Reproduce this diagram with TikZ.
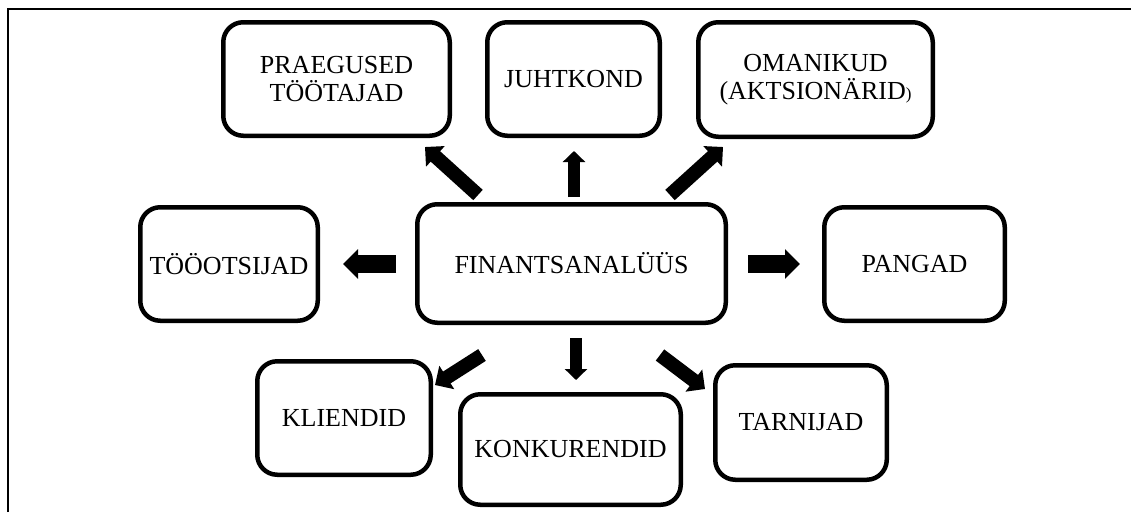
\documentclass[tikz,border=0pt]{standalone}
\usepackage{fontspec}
\setmainfont{Liberation Serif}
\usetikzlibrary{arrows.meta}
\begin{document}
\begin{tikzpicture}[x=1pt,y=-1pt,
  box/.style={draw, line width=4.5pt, rounded corners=20pt, align=center,
    font=\fontsize{26}{27.5}\selectfont, inner sep=0pt},
  blkh/.style={line width=18pt, -{Triangle[length=15pt,width=29pt]}},
  blkv/.style={line width=12.5pt, -{Triangle[length=11pt,width=22pt]}},
  blkd/.style={line width=14pt, -{Triangle[length=14pt,width=27pt]}},
  frame/.style={line width=1.2pt}]
\useasboundingbox (0,0) rectangle (1131,512);
\draw[frame] (8,512) -- (8,9) -- (1131,9);
% boxes
\node[box, minimum width=226.5pt, minimum height=113.5pt] (praeg) at (336.5,79) {PRAEGUSED\\TÖÖTAJAD};
\node[box, minimum width=172.5pt, minimum height=113.5pt] (juht) at (573.5,79) {JUHTKOND};
\node[box, minimum width=234.5pt, minimum height=114.5pt] (oman) at (815.5,79.5) {OMANIKUD\\(AKTSIONÄRID{\fontsize{17}{17}\selectfont)}};
\node[box, minimum width=177.5pt, minimum height=113.5pt] (tooots) at (229,264) {TÖÖOTSIJAD};
\node[box, minimum width=308.5pt, minimum height=118.5pt] (fin) at (571.5,263.5) {FINANTSANALÜÜS};
\node[box, minimum width=180.5pt, minimum height=113.5pt] (pang) at (914.5,264) {PANGAD};
\node[box, minimum width=173.5pt, minimum height=113.5pt] (klient) at (344,418) {KLIENDID};
\node[box, minimum width=220.5pt, minimum height=110.5pt] (konk) at (570.5,449.5) {KONKURENDID};
\node[box, minimum width=171.5pt, minimum height=114.5pt] (tarn) at (801,422.5) {TARNIJAD};
% arrow end points
\coordinate (sL) at (396,264);  \coordinate (eL) at (343,264);
\coordinate (sR) at (748,264);  \coordinate (eR) at (800,264);
\coordinate (sU) at (574,197);  \coordinate (eU) at (574,151);
\coordinate (sD) at (576,338);  \coordinate (eD) at (576,380);
\coordinate (sUL) at (478,195); \coordinate (eUL) at (425,147);
\coordinate (sUR) at (670,195); \coordinate (eUR) at (723,147);
\coordinate (sDL) at (482,355); \coordinate (eDL) at (435,385);
\coordinate (sDR) at (660,355); \coordinate (eDR) at (705,389);
\draw[blkh] (sL) -- (eL);
\draw[blkh] (sR) -- (eR);
\draw[blkv] (sU) -- (eU);
\draw[blkv] (sD) -- (eD);
\draw[blkd] (sUL) -- (eUL);
\draw[blkd] (sUR) -- (eUR);
\draw[blkd] (sDL) -- (eDL);
\draw[blkd] (sDR) -- (eDR);
\end{tikzpicture}
\end{document}
